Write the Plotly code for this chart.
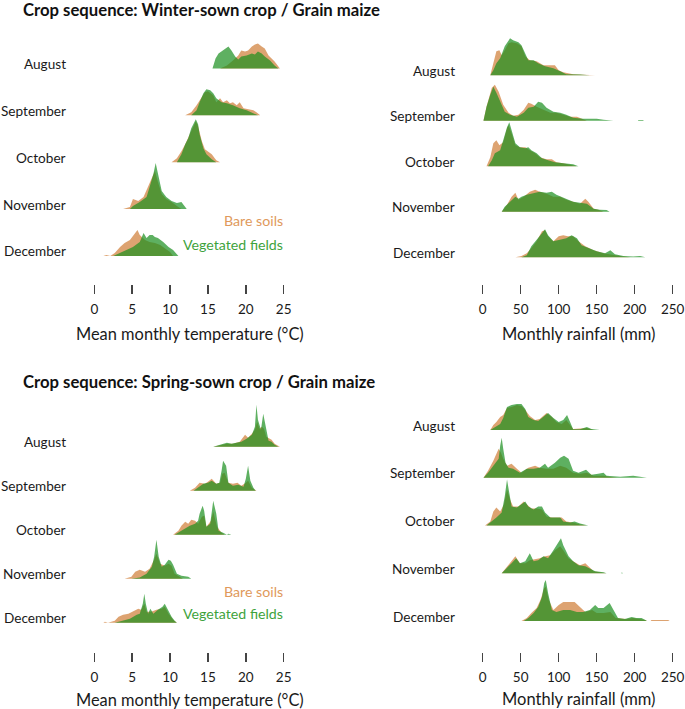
import plotly.graph_objects as go

# ---------------- DATA ----------------
MONTHS = ["August", "September", "October", "November", "December"]
SERIES = ["Bare soils", "Vegetated fields"]
TEMP_TICKS = [0, 5, 10, 15, 20, 25]
RAIN_TICKS = [0, 50, 100, 150, 200, 250]
TITLE_WINTER = "Crop sequence: Winter-sown crop / Grain maize"
TITLE_SPRING = "Crop sequence: Spring-sown crop / Grain maize"
XTITLE_TEMP = "Mean monthly temperature (°C)"
XTITLE_RAIN = "Monthly rainfall (mm)"

# ridge heights (density, arbitrary units) as (value, height) pairs
# ---- Winter-sown, temperature ----
W_T_BARE_AUG = [(16.6, 0), (17.5, 3), (18.3, 8), (19.0, 13), (19.4, 18), (19.9, 17), (20.3, 18), (20.8, 22),
                (21.2, 24), (21.6, 25), (22.1, 22), (22.5, 20), (23.0, 13), (23.4, 10), (23.8, 7), (24.5, 0)]
W_T_VEG_AUG = [(15.6, 0), (16.0, 10), (16.4, 15), (16.8, 17), (17.3, 20), (17.7, 22), (18.1, 18), (18.6, 12),
               (19.0, 9), (19.4, 12), (20.1, 13), (20.8, 15), (21.2, 14), (21.6, 17), (22.1, 15), (22.5, 12),
               (23.2, 8), (23.8, 3), (24.3, 0)]
W_T_BARE_SEP = [(12.0, 0), (12.8, 3), (13.5, 10), (14.2, 18), (14.6, 23), (15.0, 24), (15.7, 20), (16.1, 13),
                (16.6, 17), (17.0, 13), (17.5, 15), (17.9, 12), (18.3, 13), (18.8, 10), (19.2, 13), (19.7, 7),
                (20.3, 6), (21.0, 5), (21.4, 3), (21.9, 0)]
W_T_VEG_SEP = [(12.8, 0), (13.5, 5), (13.9, 13), (14.4, 22), (14.8, 26), (15.3, 25), (15.7, 22), (16.1, 17),
               (16.8, 13), (17.5, 12), (18.3, 10), (19.2, 7), (20.1, 5), (21.0, 2), (21.6, 0)]
W_T_BARE_OCT = [(10.2, 0), (10.9, 4), (11.5, 11), (12.0, 18), (12.6, 28), (13.1, 36), (13.4, 41), (13.7, 36),
                (14.2, 21), (14.6, 13), (15.0, 11), (15.5, 8), (16.1, 2), (16.6, 0)]
W_T_VEG_OCT = [(10.9, 0), (11.5, 8), (12.0, 18), (12.4, 24), (12.8, 34), (13.2, 41), (13.4, 43), (13.7, 38),
               (13.9, 28), (14.4, 14), (14.8, 8), (15.5, 3), (16.1, 0)]
W_T_BARE_NOV = [(3.8, 0), (4.7, 2), (5.1, 10), (5.8, 8), (6.5, 12), (7.1, 22), (7.6, 30), (8.0, 38), (8.4, 27),
                (8.9, 15), (9.5, 10), (10.2, 7), (10.9, 3), (11.5, 0)]
W_T_VEG_NOV = [(4.7, 0), (5.1, 3), (6.0, 7), (6.9, 12), (7.3, 22), (7.8, 35), (8.1, 46), (8.4, 35), (8.9, 18),
               (9.5, 12), (10.2, 8), (10.9, 6), (11.5, 7), (12.0, 2), (12.2, 0)]
W_T_BARE_DEC = [(1.2, 0), (1.6, 1), (2.1, 0), (2.7, 3), (3.4, 9), (4.0, 13), (4.7, 16), (5.4, 23), (5.7, 26),
                (6.0, 21), (6.7, 16), (7.3, 14), (8.0, 13), (8.7, 11), (9.3, 8), (10.0, 4), (10.4, 0)]
W_T_VEG_DEC = [(2.5, 0), (3.4, 3), (4.3, 6), (5.1, 9), (6.0, 14), (6.5, 23), (6.9, 18), (7.3, 21), (7.7, 21),
               (8.0, 19), (8.4, 18), (9.1, 14), (9.8, 9), (10.4, 6), (11.1, 0)]

# ---- Winter-sown, rainfall ----
W_R_BARE_AUG = [(10, 0), (14, 12), (18, 24), (22, 25), (25, 20), (29, 25), (34, 32), (38, 33), (45, 32), (51, 29),
                (56, 19), (62, 15), (71, 14), (80, 10), (89, 10), (95, 10), (100, 5), (106, 3), (119, 1), (148, 0)]
W_R_VEG_AUG = [(10, 0), (14, 5), (18, 12), (23, 17), (29, 29), (36, 37), (40, 35), (47, 33), (51, 30), (56, 22),
               (60, 15), (67, 15), (73, 12), (82, 9), (93, 7), (102, 4), (110, 1), (128, 0.7), (141, 0)]
W_R_BARE_SEP = [(1, 0), (5, 14), (12, 33), (16, 36), (21, 29), (27, 16), (34, 8), (40, 5), (47, 6), (54, 11),
                (60, 18), (64, 17), (71, 14), (80, 11), (89, 8), (97, 8), (106, 6), (115, 4), (124, 4), (130, 2),
                (137, 0)]
W_R_VEG_SEP = [(1, 0), (5, 14), (10, 26), (14, 34), (18, 28), (23, 19), (29, 9), (36, 6), (45, 4), (54, 8),
               (60, 13), (67, 14), (73, 19), (78, 18), (84, 13), (93, 9), (102, 8), (110, 6), (119, 3), (132, 2),
               (150, 2), (159, 1), (170, 0.5), (172, 0), (204, 0), (205, 0.7), (211, 0.7), (212, 0)]
W_R_BARE_OCT = [(5, 0), (10, 9), (14, 23), (18, 26), (22, 21), (27, 24), (32, 38), (34, 41), (38, 33), (43, 21),
                (49, 19), (56, 19), (62, 16), (69, 13), (75, 9), (84, 7), (91, 7), (97, 4), (106, 3), (119, 1),
                (124, 0)]
W_R_VEG_OCT = [(7, 0), (12, 6), (16, 13), (23, 16), (27, 26), (32, 39), (35, 44), (38, 36), (43, 23), (49, 19),
               (56, 18), (60, 19), (64, 16), (71, 13), (78, 8), (86, 6), (95, 4), (106, 3), (119, 2), (126, 0)]
W_R_BARE_NOV = [(25, 0), (32, 7), (38, 15), (43, 19), (47, 12), (54, 15), (62, 20), (69, 22), (75, 20), (84, 18),
                (93, 15), (102, 15), (110, 12), (119, 10), (128, 8), (135, 13), (139, 10), (146, 3), (152, 2),
                (159, 0)]
W_R_VEG_NOV = [(25, 0), (29, 5), (36, 10), (43, 15), (47, 13), (51, 15), (58, 17), (67, 19), (75, 20), (84, 19),
               (91, 20), (97, 17), (104, 15), (110, 13), (119, 10), (128, 9), (137, 8), (146, 3), (154, 2),
               (163, 1.7), (167, 0)]
W_R_BARE_DEC = [(43, 0), (51, 1.3), (58, 4), (64, 9), (71, 16), (78, 26), (82, 27), (86, 21), (93, 16), (100, 21),
                (106, 22), (112, 21), (119, 21), (126, 16), (135, 11), (146, 7), (159, 4), (172, 2), (185, 0.7),
                (194, 0), (224, 0), (227, 0.7), (231, 0)]
W_R_VEG_DEC = [(51, 0), (58, 2), (64, 11), (71, 17), (78, 24), (82, 28), (86, 22), (93, 16), (102, 18), (110, 19),
               (117, 22), (124, 19), (130, 12), (139, 9), (150, 6), (161, 4), (168, 7), (174, 3), (185, 1.3),
               (198, 0.7), (207, 1.3), (214, 0)]

# ---- Spring-sown, temperature ----
S_T_BARE_AUG = [(15.7, 0), (17.5, 3), (18.3, 3), (19.2, 5), (19.9, 12), (20.3, 9), (20.8, 13), (21.2, 17),
                (21.5, 25), (21.8, 18), (22.1, 20), (22.4, 18), (22.7, 10), (23.4, 7), (23.8, 3), (24.5, 0)]
S_T_VEG_AUG = [(15.7, 0), (16.6, 1.7), (17.5, 4), (18.1, 3), (18.8, 4), (19.4, 5), (20.1, 8), (20.8, 12),
               (21.2, 20), (21.4, 42), (21.6, 27), (22.0, 17), (22.3, 33), (22.6, 20), (23.0, 6), (23.4, 5),
               (23.8, 2), (24.3, 0)]
S_T_BARE_SEP = [(12.6, 0), (13.3, 3), (13.9, 8), (14.6, 7), (15.0, 9), (15.5, 12), (16.1, 7), (16.6, 8),
                (16.9, 17), (17.2, 18), (17.7, 8), (18.3, 7), (18.9, 8), (19.4, 5), (20.0, 8), (20.3, 10),
                (20.8, 3), (21.4, 0)]
S_T_VEG_SEP = [(13.1, 0), (13.7, 3), (14.4, 7), (15.0, 8), (15.5, 10), (16.1, 7), (16.5, 8), (16.8, 20),
               (17.0, 30), (17.4, 25), (17.7, 8), (18.3, 5), (19.0, 6), (19.7, 4), (20.0, 12), (20.3, 25),
               (20.6, 10), (21.0, 3), (21.3, 0)]
S_T_BARE_OCT = [(10.4, 0), (11.1, 4), (11.5, 9), (12.0, 13), (12.4, 11), (12.8, 15), (13.3, 14), (13.7, 11),
                (14.2, 18), (14.5, 19), (14.8, 8), (15.4, 14), (15.7, 23), (16.2, 8), (16.8, 2), (17.2, 0)]
S_T_VEG_OCT = [(10.6, 0), (11.3, 3), (12.0, 6), (12.6, 9), (13.3, 11), (13.7, 14), (13.9, 21), (14.3, 29),
               (14.5, 24), (14.8, 8), (15.3, 11), (15.7, 34), (16.1, 21), (16.4, 4), (17.0, 2), (17.5, 0),
               (17.7, 1), (18.1, 0)]
S_T_BARE_NOV = [(4.0, 0), (4.9, 2), (5.4, 7), (6.0, 9), (6.7, 7), (7.3, 10), (7.9, 19), (8.2, 25), (8.7, 15),
                (9.3, 13), (9.8, 15), (10.2, 13), (10.6, 5), (11.3, 1.3), (11.7, 0)]
S_T_VEG_NOV = [(4.9, 0), (6.0, 1.3), (6.9, 5), (7.6, 12), (7.9, 22), (8.2, 39), (8.5, 22), (8.9, 12), (9.3, 14),
               (9.8, 19), (10.1, 18), (10.4, 14), (10.9, 5), (11.5, 3), (12.4, 2), (12.8, 0)]
S_T_BARE_DEC = [(1.2, 0), (1.4, 1), (1.8, 0), (2.7, 2), (3.2, 6), (3.8, 8), (4.5, 9), (5.1, 11), (5.8, 14),
                (6.2, 13), (6.6, 19), (6.9, 11), (7.5, 11), (8.2, 13), (8.9, 14), (9.3, 16), (9.8, 9), (10.4, 3),
                (10.9, 0)]
S_T_VEG_DEC = [(2.7, 0), (3.8, 2), (4.7, 4), (5.6, 8), (6.0, 9), (6.4, 19), (6.6, 29), (6.8, 19), (7.1, 9),
               (7.4, 14), (7.8, 9), (8.4, 13), (9.0, 16), (9.3, 19), (9.8, 11), (10.2, 6), (10.6, 2), (10.9, 0)]

# ---- Spring-sown, rainfall ----
S_R_BARE_AUG = [(10, 0), (14, 5), (18, 8), (23, 13), (27, 15), (32, 22), (38, 23), (45, 25), (51, 24), (56, 20),
                (62, 14), (69, 10), (75, 11), (84, 17), (91, 13), (97, 8), (104, 6), (110, 10), (115, 5), (119, 1),
                (137, 2), (146, 0)]
S_R_VEG_AUG = [(10, 0), (16, 3), (23, 6), (27, 12), (32, 23), (38, 25), (45, 26), (51, 26), (56, 21), (60, 13),
               (67, 10), (73, 9), (80, 13), (86, 17), (93, 12), (100, 8), (106, 10), (111, 15), (115, 8),
               (119, 0.7), (128, 0.7), (137, 3), (143, 1), (154, 0)]
S_R_BARE_SEP = [(1, 0), (7, 7), (14, 17), (18, 24), (21, 29), (24, 25), (27, 19), (32, 12), (38, 14), (45, 9),
                (51, 5), (60, 10), (69, 12), (75, 10), (84, 9), (93, 9), (102, 12), (110, 10), (119, 5), (128, 4),
                (137, 5), (146, 2), (159, 2), (168, 0.7), (177, 0)]
S_R_VEG_SEP = [(1, 0), (7, 5), (14, 12), (21, 19), (23, 32), (25, 40), (27, 29), (30, 15), (34, 10), (40, 9),
               (49, 5), (58, 9), (67, 9), (75, 10), (82, 14), (86, 10), (95, 15), (102, 20), (107, 22), (113, 19),
               (119, 7), (126, 5), (136, 8), (143, 3), (152, 4), (159, 5), (163, 2), (181, 1), (198, 2),
               (207, 0.7), (216, 0)]
S_R_BARE_OCT = [(3, 0), (10, 4), (14, 14), (18, 18), (23, 14), (28, 21), (32, 36), (36, 26), (40, 19), (47, 19),
                (54, 24), (58, 21), (64, 17), (71, 17), (78, 16), (84, 9), (91, 8), (97, 8), (104, 8), (110, 4),
                (119, 3), (128, 1), (137, 0)]
S_R_VEG_OCT = [(5, 0), (12, 4), (18, 8), (25, 13), (29, 29), (32, 46), (35, 33), (38, 19), (45, 18), (51, 21),
               (56, 24), (60, 19), (67, 16), (73, 19), (78, 19), (82, 13), (89, 8), (95, 8), (102, 8), (106, 4),
               (115, 3), (121, 4), (128, 2), (139, 0)]
S_R_BARE_NOV = [(25, 0), (32, 7), (38, 13), (43, 17), (49, 10), (56, 10), (62, 13), (69, 14), (75, 15), (82, 17),
                (89, 18), (95, 23), (102, 27), (106, 23), (113, 15), (119, 12), (128, 8), (135, 10), (139, 7),
                (146, 2), (154, 1), (163, 0)]
S_R_VEG_NOV = [(25, 0), (32, 5), (38, 10), (44, 15), (49, 10), (56, 12), (62, 20), (67, 12), (73, 13), (80, 17),
               (86, 15), (93, 23), (100, 32), (103, 35), (106, 28), (113, 17), (119, 12), (126, 8), (135, 7),
               (141, 5), (148, 2), (159, 1), (163, 0), (182, 0), (183, 0.7), (185, 0)]
S_R_BARE_DEC = [(51, 0), (58, 3), (64, 8), (71, 13), (76, 21), (81, 33), (83, 34), (87, 21), (93, 11), (100, 16),
                (106, 19), (115, 19), (121, 19), (128, 14), (135, 9), (144, 11), (150, 8), (159, 8), (168, 9),
                (175, 3), (189, 2), (198, 3), (207, 2), (214, 1), (216, 0), (221, 0), (222, 1), (244, 1), (246, 0)]
S_R_VEG_DEC = [(54, 0), (60, 3), (67, 8), (73, 14), (78, 24), (81, 38), (83, 41), (86, 28), (91, 11), (97, 9),
               (106, 11), (115, 11), (124, 9), (132, 9), (141, 11), (148, 16), (152, 13), (159, 13), (167, 18),
               (172, 11), (178, 3), (187, 2), (196, 4), (202, 3), (209, 3), (214, 1), (216, 0)]

# ---------------- ASSEMBLY ----------------
W = 685
H = 709
BARE_FILL = "rgba(207,124,52,0.70)"
VEG_FILL = "rgba(26,142,30,0.70)"
BARE_TEXT = "#E0995B"
VEG_TEXT = "#3EA33C"
FONT = "Lato, 'Open Sans', sans-serif"
TXT = "#1a1a1a"

panels = [
    dict(bare=[W_T_BARE_AUG, W_T_BARE_SEP, W_T_BARE_OCT, W_T_BARE_NOV, W_T_BARE_DEC],
         veg=[W_T_VEG_AUG, W_T_VEG_SEP, W_T_VEG_OCT, W_T_VEG_NOV, W_T_VEG_DEC],
         px0=94.3, ppu=7.576, xdom=(70, 340), yd=256.0, sp=46.9, ydom=(22, 284), ticks=TEMP_TICKS,
         lab_x=68),
    dict(bare=[W_R_BARE_AUG, W_R_BARE_SEP, W_R_BARE_OCT, W_R_BARE_NOV, W_R_BARE_DEC],
         veg=[W_R_VEG_AUG, W_R_VEG_SEP, W_R_VEG_OCT, W_R_VEG_NOV, W_R_VEG_DEC],
         px0=482.7, ppu=0.76, xdom=(345, 684), yd=257.3, sp=45.5, ydom=(22, 284), ticks=RAIN_TICKS,
         lab_x=457),
    dict(bare=[S_T_BARE_AUG, S_T_BARE_SEP, S_T_BARE_OCT, S_T_BARE_NOV, S_T_BARE_DEC],
         veg=[S_T_VEG_AUG, S_T_VEG_SEP, S_T_VEG_OCT, S_T_VEG_NOV, S_T_VEG_DEC],
         px0=94.3, ppu=7.576, xdom=(70, 340), yd=622.7, sp=44.0, ydom=(395, 652), ticks=TEMP_TICKS,
         lab_x=68),
    dict(bare=[S_R_BARE_AUG, S_R_BARE_SEP, S_R_BARE_OCT, S_R_BARE_NOV, S_R_BARE_DEC],
         veg=[S_R_VEG_AUG, S_R_VEG_SEP, S_R_VEG_OCT, S_R_VEG_NOV, S_R_VEG_DEC],
         px0=482.7, ppu=0.76, xdom=(345, 684), yd=621.0, sp=47.75, ydom=(395, 652), ticks=RAIN_TICKS,
         lab_x=457),
]

fig = go.Figure()
annotations = []
layout_axes = {}

for i, p in enumerate(panels):
    n = i + 1
    xa = "x" if n == 1 else f"x{n}"
    ya = "y" if n == 1 else f"y{n}"
    nrows = len(MONTHS)
    for r, month in enumerate(MONTHS):
        base = (nrows - 1 - r) * p["sp"]
        for curves, color, name in ((p["bare"], BARE_FILL, SERIES[0]), (p["veg"], VEG_FILL, SERIES[1])):
            pts = curves[r]
            xs = [v for v, _ in pts]
            ys = [base + h for _, h in pts]
            xs = xs + [xs[-1], xs[0]]
            ys = ys + [base, base]
            fig.add_trace(go.Scatter(x=xs, y=ys, fill="toself", fillcolor=color, mode="lines",
                                     line=dict(width=0, color=color), hoverinfo="skip",
                                     showlegend=False, name=name, xaxis=xa, yaxis=ya))
        annotations.append(dict(text=month, xref="paper", yref=ya, x=p["lab_x"] / W,
                                y=base + 4.5, xanchor="right", yanchor="middle", showarrow=False,
                                font=dict(family=FONT, size=13.6, color=TXT)))
    xd0, xd1 = p["xdom"]
    xr = [(xd0 - p["px0"]) / p["ppu"], (xd1 - p["px0"]) / p["ppu"]]
    yt, yb = p["ydom"]
    yr = [p["yd"] - yb, p["yd"] - yt]
    xkey = "xaxis" if n == 1 else f"xaxis{n}"
    ykey = "yaxis" if n == 1 else f"yaxis{n}"
    layout_axes[xkey] = dict(domain=[xd0 / W, xd1 / W], range=xr, anchor=ya, showgrid=False, zeroline=False,
                             showline=False, ticks="outside", ticklen=9, tickwidth=1.4, tickcolor="#444",
                             tickvals=p["ticks"], ticktext=[str(t) for t in p["ticks"]],
                             tickfont=dict(family=FONT, size=13.5, color=TXT), ticklabelstandoff=4)
    layout_axes[ykey] = dict(domain=[1 - yb / H, 1 - yt / H], range=yr, anchor=xa, visible=False,
                             showgrid=False, zeroline=False)

# titles
annotations.append(dict(text=f"<b>{TITLE_WINTER}</b>", xref="paper", yref="paper", x=21 / W, y=1 - 10 / H,
                        xanchor="left", yanchor="middle", showarrow=False,
                        font=dict(family=FONT, size=16.7, color="#111")))
annotations.append(dict(text=f"<b>{TITLE_SPRING}</b>", xref="paper", yref="paper", x=21 / W, y=1 - 381.5 / H,
                        xanchor="left", yanchor="middle", showarrow=False,
                        font=dict(family=FONT, size=16.7, color="#111")))
# axis titles
for xc, yc, t, fs in ((190, 334, XTITLE_TEMP, 16.4), (578, 334, XTITLE_RAIN, 16.5),
                      (190, 699, XTITLE_TEMP, 16.4), (578, 699, XTITLE_RAIN, 16.5)):
    annotations.append(dict(text=t, xref="paper", yref="paper", x=xc / W, y=1 - yc / H, xanchor="center",
                            yanchor="middle", showarrow=False, font=dict(family=FONT, size=fs, color=TXT)))
# series labels
for yc, t, c in ((221, SERIES[0], BARE_TEXT), (244, SERIES[1], VEG_TEXT),
                 (591, SERIES[0], BARE_TEXT), (613, SERIES[1], VEG_TEXT)):
    annotations.append(dict(text=t, xref="paper", yref="paper", x=285 / W, y=1 - yc / H, xanchor="right",
                            yanchor="middle", showarrow=False, font=dict(family=FONT, size=14.2, color=c)))

fig.update_layout(width=W, height=H, margin=dict(l=0, r=0, t=0, b=0), paper_bgcolor="white",
                  plot_bgcolor="rgba(0,0,0,0)", showlegend=False, annotations=annotations, **layout_axes)

fig.write_html("out.html", config={"displayModeBar": False, "staticPlot": True},
               post_script="document.body.style.margin='0';document.body.style.overflow='hidden';")
